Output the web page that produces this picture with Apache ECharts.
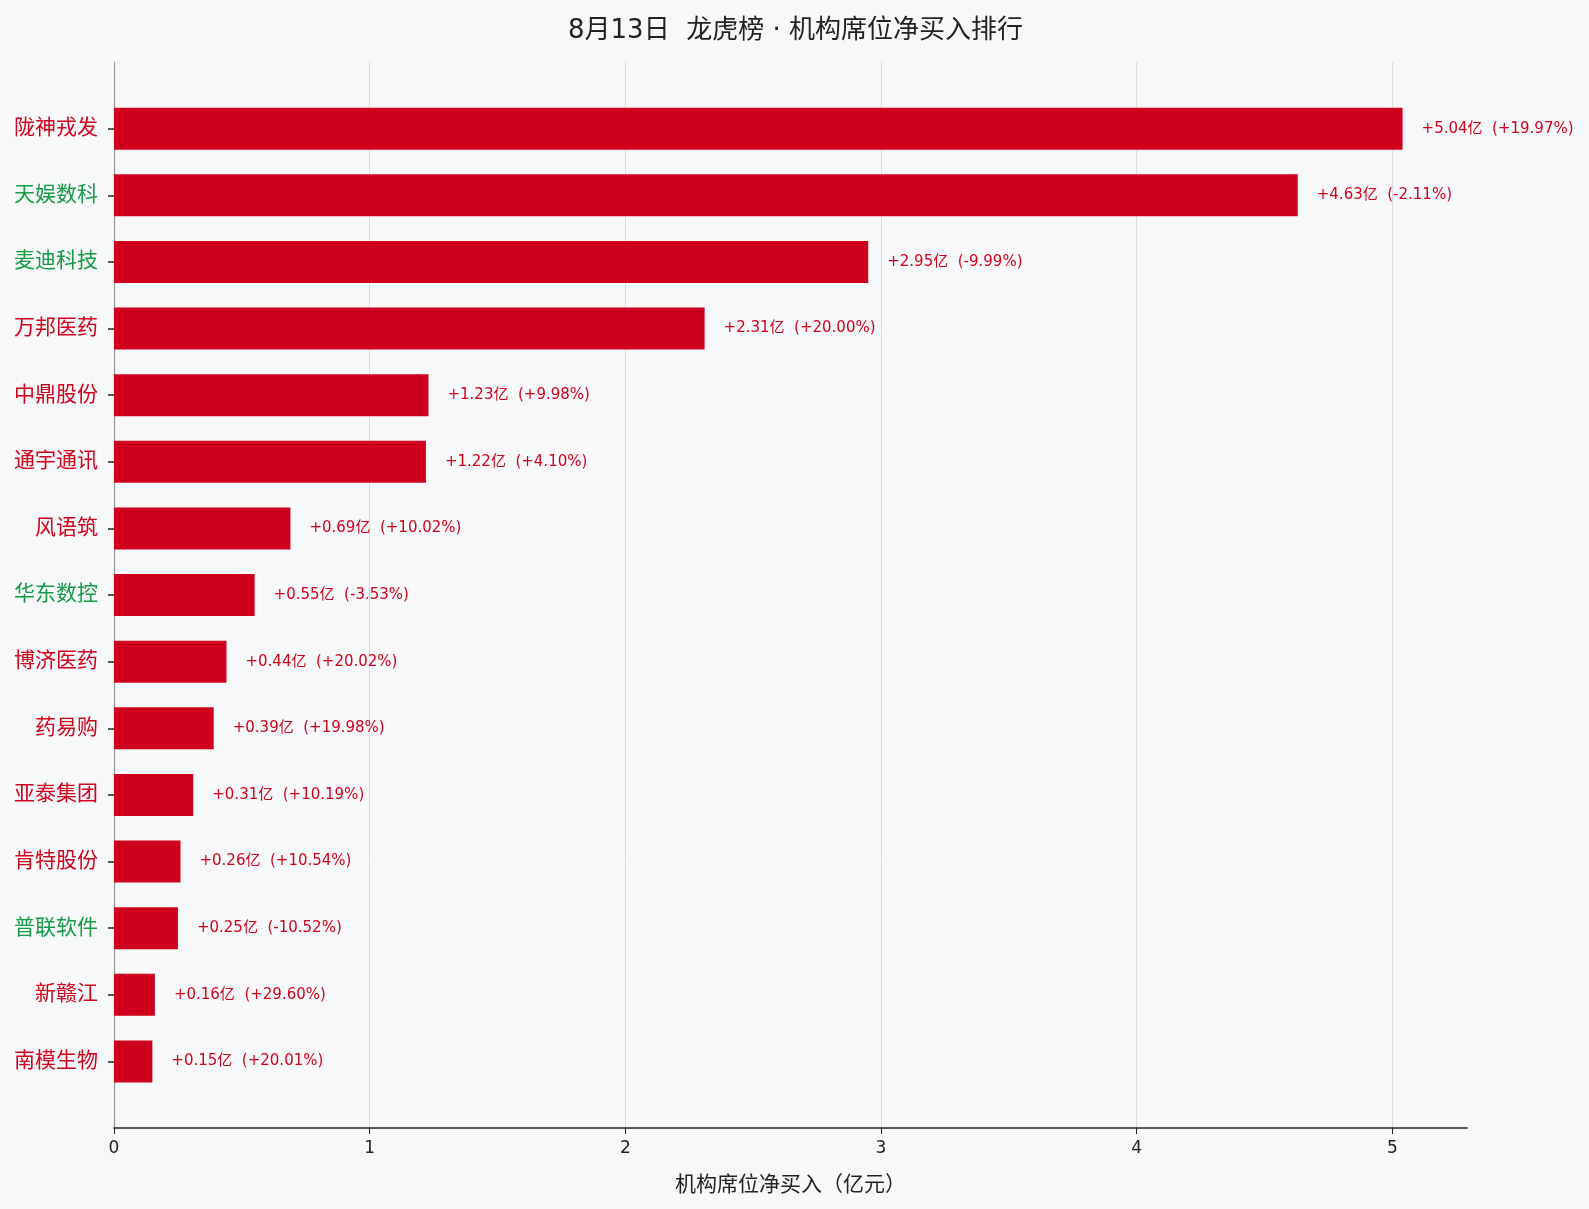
<!DOCTYPE html>
<html>
<head>
<meta charset="utf-8">
<title>龙虎榜 机构席位净买入排行</title>
<script src="https://cdn.jsdelivr.net/npm/echarts@6/dist/echarts.min.js"></script>
<style>
  html, body { margin: 0; padding: 0; background: #f7f8fa; }
  #chart { width: 1589px; height: 1209px; }
</style>
</head>
<body>
<div id="chart"></div>
<script>
// 个股名称（自上而下）
const stocks = ['陇神戎发', '天娱数科', '麦迪科技', '万邦医药', '中鼎股份', '通宇通讯', '风语筑', '华东数控',
  '博济医药', '药易购', '亚泰集团', '肯特股份', '普联软件', '新赣江', '南模生物'];
// 机构席位净买入（亿元）
const netBuy = [5.04, 4.63, 2.95, 2.31, 1.23, 1.22, 0.69, 0.55, 0.44, 0.39, 0.31, 0.26, 0.25, 0.16, 0.15];
// 当日涨跌幅（%）
const pctChange = [19.97, -2.11, -9.99, 20.00, 9.98, 4.10, 10.02, -3.53, 20.02, 19.98, 10.19, 10.54, -10.52, 29.60, 20.01];
const xTicks = [0, 1, 2, 3, 4, 5];

const UP = '#d0021b';
const DOWN = '#159a46';
const FONT = '"DejaVu Sans", "Noto Sans CJK SC", sans-serif';

const W = 1589;
const gridLeft = 114, gridRight = 122;

// 上下各留一个空位，让柱子和坐标轴之间有留白
const cats = [''].concat(stocks, ['']);
const vals = ['-'].concat(netBuy, ['-']);
const xMax = Math.max(...netBuy) * 1.05;

function fmtPct(p) {
  return (p >= 0 ? '+' : '') + p.toFixed(2) + '%';
}

const chart = echarts.init(document.getElementById('chart'));
chart.setOption({
  backgroundColor: '#f7f8fa',
  animation: false,
  textStyle: { fontFamily: FONT },
  title: {
    text: '8月13日  龙虎榜 · 机构席位净买入排行',
    left: (gridLeft + W - gridRight) / 2,
    textAlign: 'center',
    top: 13,
    textStyle: { fontSize: 26, fontWeight: 'normal', color: '#222', fontFamily: FONT }
  },
  grid: { left: gridLeft, right: gridRight, top: 62, bottom: 81, containLabel: false },
  xAxis: {
    type: 'value',
    min: 0,
    max: xMax,
    interval: 1,
    name: '机构席位净买入（亿元）',
    nameLocation: 'middle',
    nameGap: 47,
    nameTextStyle: { fontSize: 21, color: '#222', fontFamily: FONT },
    axisLine: { show: true, lineStyle: { color: '#222', width: 1.6 } },
    axisTick: { show: true, length: 6, lineStyle: { color: '#222' } },
    axisLabel: {
      fontSize: 17, color: '#222', margin: 12, fontFamily: FONT,
      showMaxLabel: false,
      formatter: v => (xTicks.indexOf(v) >= 0 ? String(v) : '')
    },
    splitLine: {
      show: true,
      lineStyle: { color: ['#dcdcdc', '#dcdcdc', '#dcdcdc', '#dcdcdc', '#dcdcdc', '#dcdcdc', 'rgba(0,0,0,0)'], width: 1 }
    }
  },
  yAxis: {
    type: 'category',
    data: cats,
    inverse: true,
    boundaryGap: false,
    axisLine: { show: true, lineStyle: { color: '#999', width: 1.2 } },
    axisTick: {
      show: true, length: 6,
      interval: (i, v) => v !== '',
      lineStyle: { color: '#222', width: 1.5 }
    },
    axisLabel: {
      fontSize: 21, margin: 16, fontFamily: FONT,
      interval: 0,
      color: (v, i) => {
        const k = stocks.indexOf(v);
        return k >= 0 && pctChange[k] < 0 ? DOWN : UP;
      }
    },
    splitLine: { show: false }
  },
  series: [{
    type: 'bar',
    data: vals,
    barWidth: 42,
    itemStyle: { color: '#cf001c' },
    label: {
      show: true,
      position: 'right',
      distance: 19,
      fontSize: 15,
      color: UP,
      fontFamily: FONT,
      formatter: p => {
        const k = p.dataIndex - 1;
        return '+' + netBuy[k].toFixed(2) + '亿  (' + fmtPct(pctChange[k]) + ')';
      }
    }
  }]
});
</script>
</body>
</html>
